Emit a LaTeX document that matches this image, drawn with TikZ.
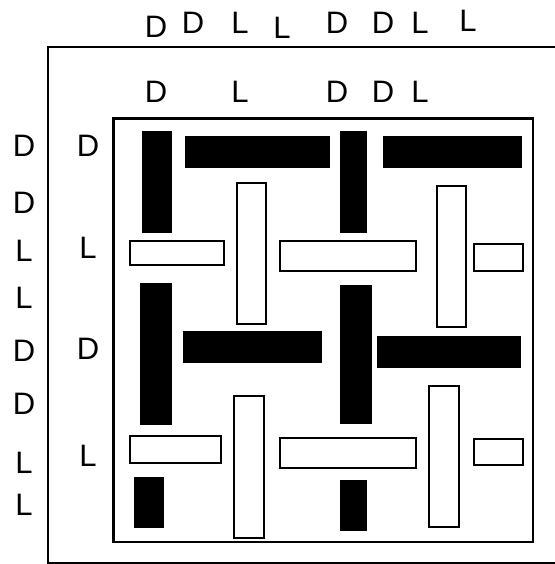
\documentclass[tikz,border=0pt]{standalone}
\usepackage{fontspec}
\setmainfont{Liberation Sans}
\usepackage{tikz}
\usetikzlibrary{positioning}

\tikzset{
  darkbar/.style={fill=black},
  lightbar/.style={draw=black, line width=2.2pt, fill=white},
  lbl/.style={inner sep=0pt, font=\fontsize{31}{33}\selectfont},
}

\begin{document}
\begin{tikzpicture}[x=1pt, y=-1pt, line join=miter]
\useasboundingbox (0,0) rectangle (554,564);

% ---- frames ----
\draw[line width=2.2pt] (560,47) -- (48,47) -- (48,563) -- (560,563);
\draw[line width=2.2pt] (113.5,118.5) rectangle (533,542);

% ---- outer labels, top row ----
\node[lbl] (t1) at (156,27) {D};
\node[lbl] (t2) at (193,23) {D};
\node[lbl] (t3) at (240,23) {L};
\node[lbl] (t4) at (282,28) {L};
\node[lbl] (t5) at (337,23) {D};
\node[lbl] (t6) at (383,23) {D};
\node[lbl] (t7) at (420,23) {L};
\node[lbl] (t8) at (468,21) {L};

% ---- inner labels, top row ----
\node[lbl] (s1) at (156,92) {D};
\node[lbl] (s2) at (240,92) {L};
\node[lbl] (s3) at (337,92) {D};
\node[lbl] (s4) at (383,92) {D};
\node[lbl] (s5) at (420,92) {L};

% ---- outer labels, left column ----
\node[lbl] (l1) at (24,146) {D};
\node[lbl] (l2) at (24,203) {D};
\node[lbl] (l3) at (24,251) {L};
\node[lbl] (l4) at (24,298) {L};
\node[lbl] (l5) at (24,351) {D};
\node[lbl] (l6) at (24,404) {D};
\node[lbl] (l7) at (24,463) {L};
\node[lbl] (l8) at (24,505) {L};

% ---- inner labels, left column ----
\node[lbl] (m1) at (88,146) {D};
\node[lbl] (m2) at (88,248) {L};
\node[lbl] (m3) at (88,349) {D};
\node[lbl] (m4) at (88,456) {L};

% ---- dark bars ----
\fill[darkbar] (141.7,131) rectangle (172,232.7);
\fill[darkbar] (185,136) rectangle (330,168);
\fill[darkbar] (340,131) rectangle (366.7,232.7);
\fill[darkbar] (382.7,136) rectangle (522,168);
\fill[darkbar] (140,283) rectangle (172,424.7);
\fill[darkbar] (182.7,331) rectangle (322,362.7);
\fill[darkbar] (340,285) rectangle (371.7,424);
\fill[darkbar] (377.3,336) rectangle (521,367.7);
\fill[darkbar] (134,477) rectangle (163.7,528);
\fill[darkbar] (340,480) rectangle (366.7,530.7);

% ---- light bars ----
\draw[lightbar] (237.3,182.7) rectangle (266.3,323.7);
\draw[lightbar] (437.3,185.7) rectangle (466.3,326.7);
\draw[lightbar] (130.3,241.3) rectangle (224,265);
\draw[lightbar] (279.7,241.3) rectangle (416,271);
\draw[lightbar] (474,244) rectangle (522.7,271);
\draw[lightbar] (234.3,396.3) rectangle (264,537.7);
\draw[lightbar] (429,385.7) rectangle (458.7,526.7);
\draw[lightbar] (130.3,436.3) rectangle (221.3,463);
\draw[lightbar] (279.7,438.3) rectangle (416,468);
\draw[lightbar] (474.3,438.7) rectangle (522.7,465.3);

\end{tikzpicture}
\end{document}
